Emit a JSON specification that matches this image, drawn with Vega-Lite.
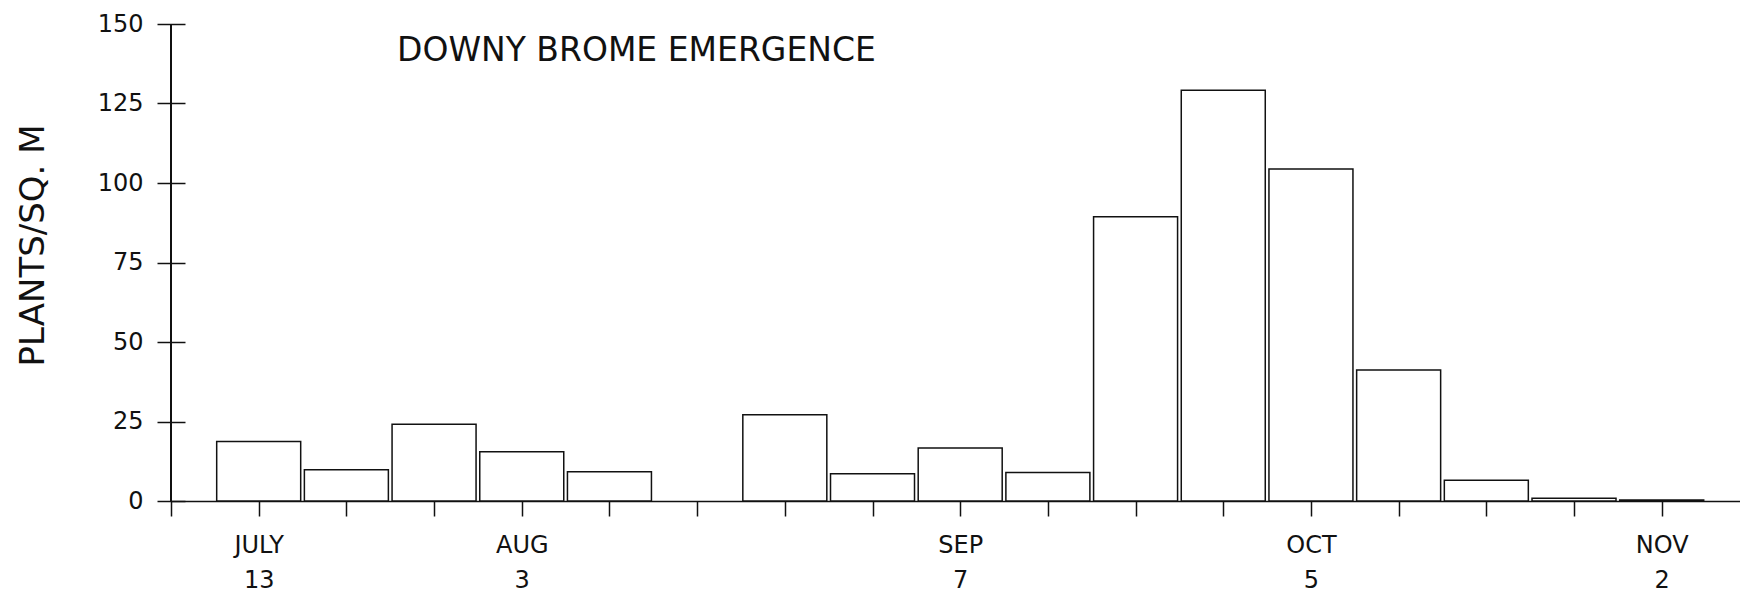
{
  "$schema": "https://vega.github.io/schema/vega-lite/v6.json",
  "autosize": "none",
  "width": 1569,
  "height": 477,
  "padding": {"left": 171, "top": 24, "right": 0, "bottom": 91},
  "background": "white",
  "config": {
    "view": {"stroke": null},
    "font": "DejaVu Sans",
    "axis": {"grid": false}
  },
  "title": {
    "text": "DOWNY BROME EMERGENCE",
    "anchor": "start",
    "frame": "group",
    "dx": 226,
    "dy": 72,
    "offset": 0,
    "baseline": "middle",
    "fontSize": 33,
    "font": "DejaVu Sans",
    "fontWeight": "normal",
    "color": "#111111"
  },
  "data": {
    "values": [
      {"date": "1987-07-13", "plants": 18.7},
      {"date": "1987-07-20", "plants": 9.8},
      {"date": "1987-07-27", "plants": 24.1},
      {"date": "1987-08-03", "plants": 15.5},
      {"date": "1987-08-10", "plants": 9.2},
      {"date": "1987-08-24", "plants": 27.1},
      {"date": "1987-08-31", "plants": 8.6},
      {"date": "1987-09-07", "plants": 16.7},
      {"date": "1987-09-14", "plants": 9.0},
      {"date": "1987-09-21", "plants": 89.4},
      {"date": "1987-09-28", "plants": 129.2},
      {"date": "1987-10-05", "plants": 104.4},
      {"date": "1987-10-12", "plants": 41.2},
      {"date": "1987-10-19", "plants": 6.5},
      {"date": "1987-10-26", "plants": 0.9},
      {"date": "1987-11-02", "plants": 0.3}
    ]
  },
  "layer": [
    {
      "mark": {"type": "bar", "size": 84, "fill": "white", "stroke": "#111111", "strokeWidth": 1.5},
      "encoding": {
        "x": {
          "field": "date",
          "type": "temporal",
          "scale": {
            "type": "utc",
            "padding": 0,
            "domain": [
              {"year": 1987, "month": "jul", "date": 6, "utc": true},
              {"year": 1987, "month": "nov", "date": 8, "hours": 6, "utc": true}
            ]
          },
          "axis": {
            "orient": "bottom",
            "title": null,
            "values": [
              {"year": 1987, "month": "jul", "date": 6, "utc": true},
              {"year": 1987, "month": "jul", "date": 13, "utc": true},
              {"year": 1987, "month": "jul", "date": 20, "utc": true},
              {"year": 1987, "month": "jul", "date": 27, "utc": true},
              {"year": 1987, "month": "aug", "date": 3, "utc": true},
              {"year": 1987, "month": "aug", "date": 10, "utc": true},
              {"year": 1987, "month": "aug", "date": 17, "utc": true},
              {"year": 1987, "month": "aug", "date": 24, "utc": true},
              {"year": 1987, "month": "aug", "date": 31, "utc": true},
              {"year": 1987, "month": "sep", "date": 7, "utc": true},
              {"year": 1987, "month": "sep", "date": 14, "utc": true},
              {"year": 1987, "month": "sep", "date": 21, "utc": true},
              {"year": 1987, "month": "sep", "date": 28, "utc": true},
              {"year": 1987, "month": "oct", "date": 5, "utc": true},
              {"year": 1987, "month": "oct", "date": 12, "utc": true},
              {"year": 1987, "month": "oct", "date": 19, "utc": true},
              {"year": 1987, "month": "oct", "date": 26, "utc": true},
              {"year": 1987, "month": "nov", "date": 2, "utc": true}
            ],
            "labelExpr": "utcFormat(datum.value, '%m%d') == '0713' ? ['JULY', '13'] : utcFormat(datum.value, '%m%d') == '0803' ? ['AUG', '3'] : utcFormat(datum.value, '%m%d') == '0907' ? ['SEP', '7'] : utcFormat(datum.value, '%m%d') == '1005' ? ['OCT', '5'] : utcFormat(datum.value, '%m%d') == '1102' ? ['NOV', '2'] : ''",
            "labelFontSize": 24,
            "labelLineHeight": 35,
            "labelBaseline": "top",
            "labelPadding": 17,
            "labelColor": "#111111",
            "labelFlush": false,
            "labelOverlap": false,
            "labelAngle": 0,
            "tickSize": 15,
            "tickWidth": 1.5,
            "tickColor": "#111111",
            "domainColor": "#111111",
            "domainWidth": 1.5
          }
        },
        "y": {
          "field": "plants",
          "type": "quantitative",
          "scale": {"domain": [0, 150], "nice": false},
          "axis": {
            "orient": "left",
            "offset": -14,
            "domain": false,
            "values": [0, 25, 50, 75, 100, 125, 150],
            "title": "PLANTS/SQ. M",
            "titleFontSize": 34,
            "titleFontWeight": "normal",
            "titleColor": "#111111",
            "titleAngle": -90,
            "titleX": -152,
            "titleY": 221,
            "titleAlign": "center",
            "titleBaseline": "middle",
            "labelFontSize": 24,
            "labelColor": "#111111",
            "labelPadding": 14,
            "tickSize": 28,
            "tickWidth": 1.5,
            "tickColor": "#111111"
          }
        }
      }
    },
    {
      "mark": {"type": "rule", "stroke": "#111111", "strokeWidth": 1.5},
      "encoding": {
        "x": {"datum": {"year": 1987, "month": "jul", "date": 6, "utc": true}, "type": "temporal"},
        "y": {"datum": 0, "type": "quantitative"},
        "y2": {"datum": 150}
      }
    }
  ]
}
